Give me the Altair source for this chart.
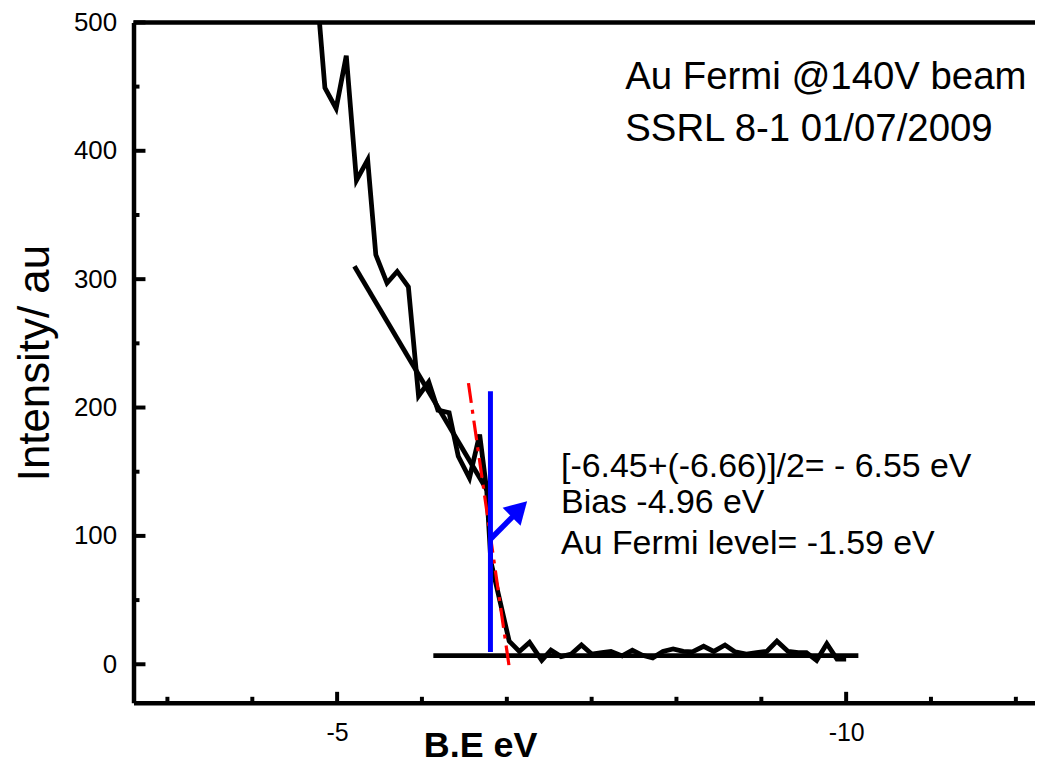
import altair as alt
import pandas as pd

# --- spectrum (binding energy in eV, intensity in a.u.) ---
be = [-4.78, -4.88, -4.99, -5.09, -5.19, -5.30, -5.38, -5.49, -5.59, -5.70,
      -5.80, -5.90, -5.99, -6.10, -6.19, -6.30, -6.40, -6.47, -6.51, -6.69,
      -6.79, -6.89, -7.01, -7.10, -7.20, -7.30, -7.40, -7.50, -7.60, -7.69,
      -7.80, -7.90, -8.00, -8.10, -8.20, -8.30, -8.40, -8.49, -8.60, -8.70,
      -8.81, -8.91, -9.02, -9.12, -9.22, -9.32, -9.43, -9.53, -9.61, -9.71,
      -9.81, -9.91, -10.00]
intensity = [545, 449, 433, 474, 377, 393, 319, 297, 306, 294,
             209, 220, 198, 196, 162, 145, 179, 135, 80, 18,
             10, 17, 3, 11, 6, 8, 15, 8, 9, 10,
             6.5, 11, 7, 5, 10, 12, 10, 9.6, 14, 10,
             15, 9.6, 8, 9, 10, 18, 10, 9, 9, 3,
             16, 4, 4]

# --- fitted / guide lines ---
slope_x = [-5.17, -6.47]
slope_y = [310, 136]
base_x = [-5.945, -10.12]
base_y = [6.7, 6.7]
edge_x = [-6.29, -6.69]
edge_y = [219, -2]
fermi_x = [-6.506, -6.506]
fermi_y = [212.6, 9.6]
arrow_x = [-6.50, -6.75]
arrow_y = [97, 117]
head_x = [-6.79]
head_y = [121]

# --- ticks ---
y_major = [0, 100, 200, 300, 400, 500]
y_minor = [50, 150, 250, 350, 450]
x_major = [-5, -10]
x_minor = [-3.333, -4.167, -5.833, -6.667, -7.5, -8.333, -9.167, -10.833, -11.667]

# --- annotations ---
top_text = ["Au Fermi @140V beam", "SSRL 8-1 01/07/2009"]
top_x = [-7.83, -7.83]
top_y = [448, 408]
low_text = ["[-6.45+(-6.66)]/2= - 6.55 eV", "Bias -4.96 eV", "Au Fermi level= -1.59 eV"]
low_x = [-7.20, -7.20, -7.20]
low_y = [145.5, 117.5, 85.8]

W, H = 905, 683
FONT = "Liberation Sans"

xs = alt.Scale(domain=[-3, -11.855], nice=False, zero=False)
ys = alt.Scale(domain=[-30, 500], nice=False, zero=False)

spec_df = pd.DataFrame({"x": be, "y": intensity, "o": range(len(be))})

def seg(xv, yv):
    return pd.DataFrame({"x": xv, "y": yv, "o": range(len(xv))})

X = alt.X("x:Q", scale=xs, axis=alt.Axis(
    values=x_major, labelExpr="datum.value", ticks=False, tickSize=0, grid=False,
    labelFontSize=25, labelPadding=18, labelColor="black", labelFont=FONT,
    domainColor="black", domainWidth=4.5, title="B.E eV", titleFontSize=36,
    titleFont=FONT, titleFontWeight="bold", titleColor="black", titleX=348,
    titleY=54, titleBaseline="alphabetic", titleAlign="center"))
Y = alt.Y("y:Q", scale=ys, axis=alt.Axis(
    values=y_major, labelExpr="datum.value", ticks=False, tickSize=0, grid=False,
    labelFontSize=26, labelPadding=17, labelColor="black", labelFont=FONT,
    domainColor="black", domainWidth=4.5, title="Intensity/ au", titleFontSize=44,
    titleFont=FONT, titleFontWeight="normal", titleColor="black", titlePadding=16))

Xn = alt.X("x:Q", scale=xs)
Yn = alt.Y("y:Q", scale=ys)

spectrum = alt.Chart(spec_df).mark_line(color="black", strokeWidth=4.8, clip=True,
                                        strokeJoin="miter").encode(x=X, y=Y, order="o:Q")

slope = alt.Chart(seg(slope_x, slope_y)).mark_line(color="black", strokeWidth=4.8).encode(x=Xn, y=Yn, order="o:Q")
base = alt.Chart(seg(base_x, base_y)).mark_line(color="black", strokeWidth=4.8).encode(x=Xn, y=Yn, order="o:Q")
edge = alt.Chart(seg(edge_x, edge_y)).mark_line(color="red", strokeWidth=3.2,
                                               strokeDash=[20, 7, 4, 7]).encode(x=Xn, y=Yn, order="o:Q")
fermi = alt.Chart(seg(fermi_x, fermi_y)).mark_line(color="#0000ff", strokeWidth=5).encode(x=Xn, y=Yn, order="o:Q")
arrow = alt.Chart(seg(arrow_x, arrow_y)).mark_line(color="#0000ff", strokeWidth=5.5).encode(x=Xn, y=Yn, order="o:Q")
head = alt.Chart(seg(head_x, head_y)).mark_point(shape="triangle-up", angle=45, size=650,
                                               filled=True, color="#0000ff", opacity=1).encode(x=Xn, y=Yn)

top_line = alt.Chart(pd.DataFrame({"v": [500]})).mark_rule(color="black", strokeWidth=4.5).encode(
    y=alt.Y("v:Q", scale=ys), x=alt.value(0), x2=alt.value(W))

ymaj = alt.Chart(pd.DataFrame({"v": y_major})).mark_rule(color="black", strokeWidth=4).encode(
    y=alt.Y("v:Q", scale=ys), x=alt.value(0), x2=alt.value(12))
ymin = alt.Chart(pd.DataFrame({"v": y_minor})).mark_rule(color="black", strokeWidth=4).encode(
    y=alt.Y("v:Q", scale=ys), x=alt.value(0), x2=alt.value(6))
xmaj = alt.Chart(pd.DataFrame({"v": x_major})).mark_rule(color="black", strokeWidth=4).encode(
    x=alt.X("v:Q", scale=xs), y=alt.value(H), y2=alt.value(H - 11))
xmin = alt.Chart(pd.DataFrame({"v": x_minor})).mark_rule(color="black", strokeWidth=4).encode(
    x=alt.X("v:Q", scale=xs), y=alt.value(H), y2=alt.value(H - 6))

top_ann = alt.Chart(pd.DataFrame({"x": top_x, "y": top_y, "t": top_text})).mark_text(
    align="left", baseline="alphabetic", fontSize=38.5, font=FONT, color="black").encode(
    x=Xn, y=Yn, text="t:N")
low_ann = alt.Chart(pd.DataFrame({"x": low_x, "y": low_y, "t": low_text})).mark_text(
    align="left", baseline="alphabetic", fontSize=34, font=FONT, color="black").encode(
    x=Xn, y=Yn, text="t:N")

chart = alt.layer(
    spectrum, slope, base, edge, fermi, arrow, head,
    top_line, ymaj, ymin, xmaj, xmin, top_ann, low_ann
).properties(
    width=W, height=H,
    autosize=alt.AutoSizeParams(type="none"),
    padding={"left": 126, "top": 13, "right": 0, "bottom": 66},
).configure_view(stroke=None).configure(background="white")

chart.save("out.html", embed_options={"renderer": "svg", "actions": False})
